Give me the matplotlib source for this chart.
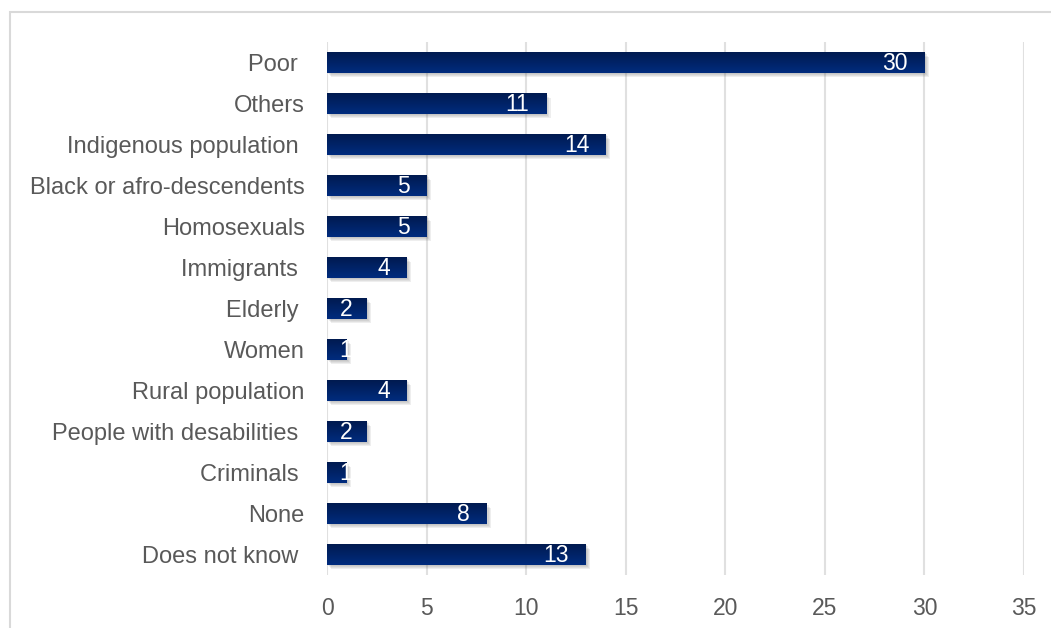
import numpy as np
import matplotlib
matplotlib.use("Agg")
import matplotlib.pyplot as plt
import matplotlib.patheffects as pe
from matplotlib.patches import Rectangle

# Data (top to bottom as shown)
categories = [
    "Poor ", "Others", "Indigenous population ", "Black or afro-descendents",
    "Homosexuals", "Immigrants ", "Elderly ", "Women", "Rural population",
    "People with desabilities ", "Criminals ", "None", "Does not know ",
]
values = [30, 11, 14, 5, 5, 4, 2, 1, 4, 2, 1, 8, 13]
xticks = [0, 5, 10, 15, 20, 25, 30, 35]

plt.rcParams['font.family'] = ['Liberation Sans', 'DejaVu Sans']
text_gray = '#595959'

fig = plt.figure(figsize=(10.51, 6.28), dpi=100)
ax = fig.add_axes([327 / 1051, 1 - 575 / 628, 697 / 1051, 533 / 628])

y = np.arange(len(categories))
bars = ax.barh(y, values, height=0.5, color='#01266e', zorder=3)
# soft drop shadow: a few stacked faint shadows
shadow = [pe.SimplePatchShadow(offset=(d, -d), shadow_rgbFace='#606060', alpha=0.10)
          for d in (0.8, 1.6, 2.4, 3.2)]
for b in bars:
    b.set_path_effects(shadow + [pe.Normal()])

# vertical gradient on each bar
grad = np.linspace(0, 1, 64).reshape(-1, 1)
cmap = matplotlib.colors.LinearSegmentedColormap.from_list('bar', ['#002c7e', '#001a50'])
for b in bars:
    x0, y0 = b.get_x(), b.get_y()
    w, h = b.get_width(), b.get_height()
    im = ax.imshow(grad, cmap=cmap, aspect='auto', extent=(x0, x0 + w, y0, y0 + h),
                   origin='upper', zorder=4, interpolation='bilinear')
    im.set_clip_path(b)

ax.set_xlim(0, 35)
ax.set_ylim(len(categories) - 0.5, -0.5)
ax.set_xticks(xticks)
ax.set_yticks(y)
ax.set_yticklabels(categories)

for s in ax.spines.values():
    s.set_visible(False)
ax.grid(axis='x', color='#e0e0e0', linewidth=1.5, zorder=0)
ax.set_axisbelow(True)
ax.tick_params(axis='both', length=0, colors=text_gray)
ax.tick_params(axis='y', labelsize=17, pad=16)
ax.tick_params(axis='x', labelsize=16.5, pad=16)

# value labels inside bar end
for i, v in enumerate(values):
    ax.annotate(str(v), xy=(max(v, 2.1), i), xytext=(-12, -0.5), textcoords='offset points',
                ha='right', va='center', color='white', fontsize=16.5, zorder=5)

# chart border
fig.add_artist(Rectangle((10 / 1051, -0.1), 1.2, (1 - 12 / 628) + 0.1,
                         transform=fig.transFigure, fill=False,
                         edgecolor='#d9d9d9', linewidth=1.5))

fig.savefig('out.png', dpi=100)
